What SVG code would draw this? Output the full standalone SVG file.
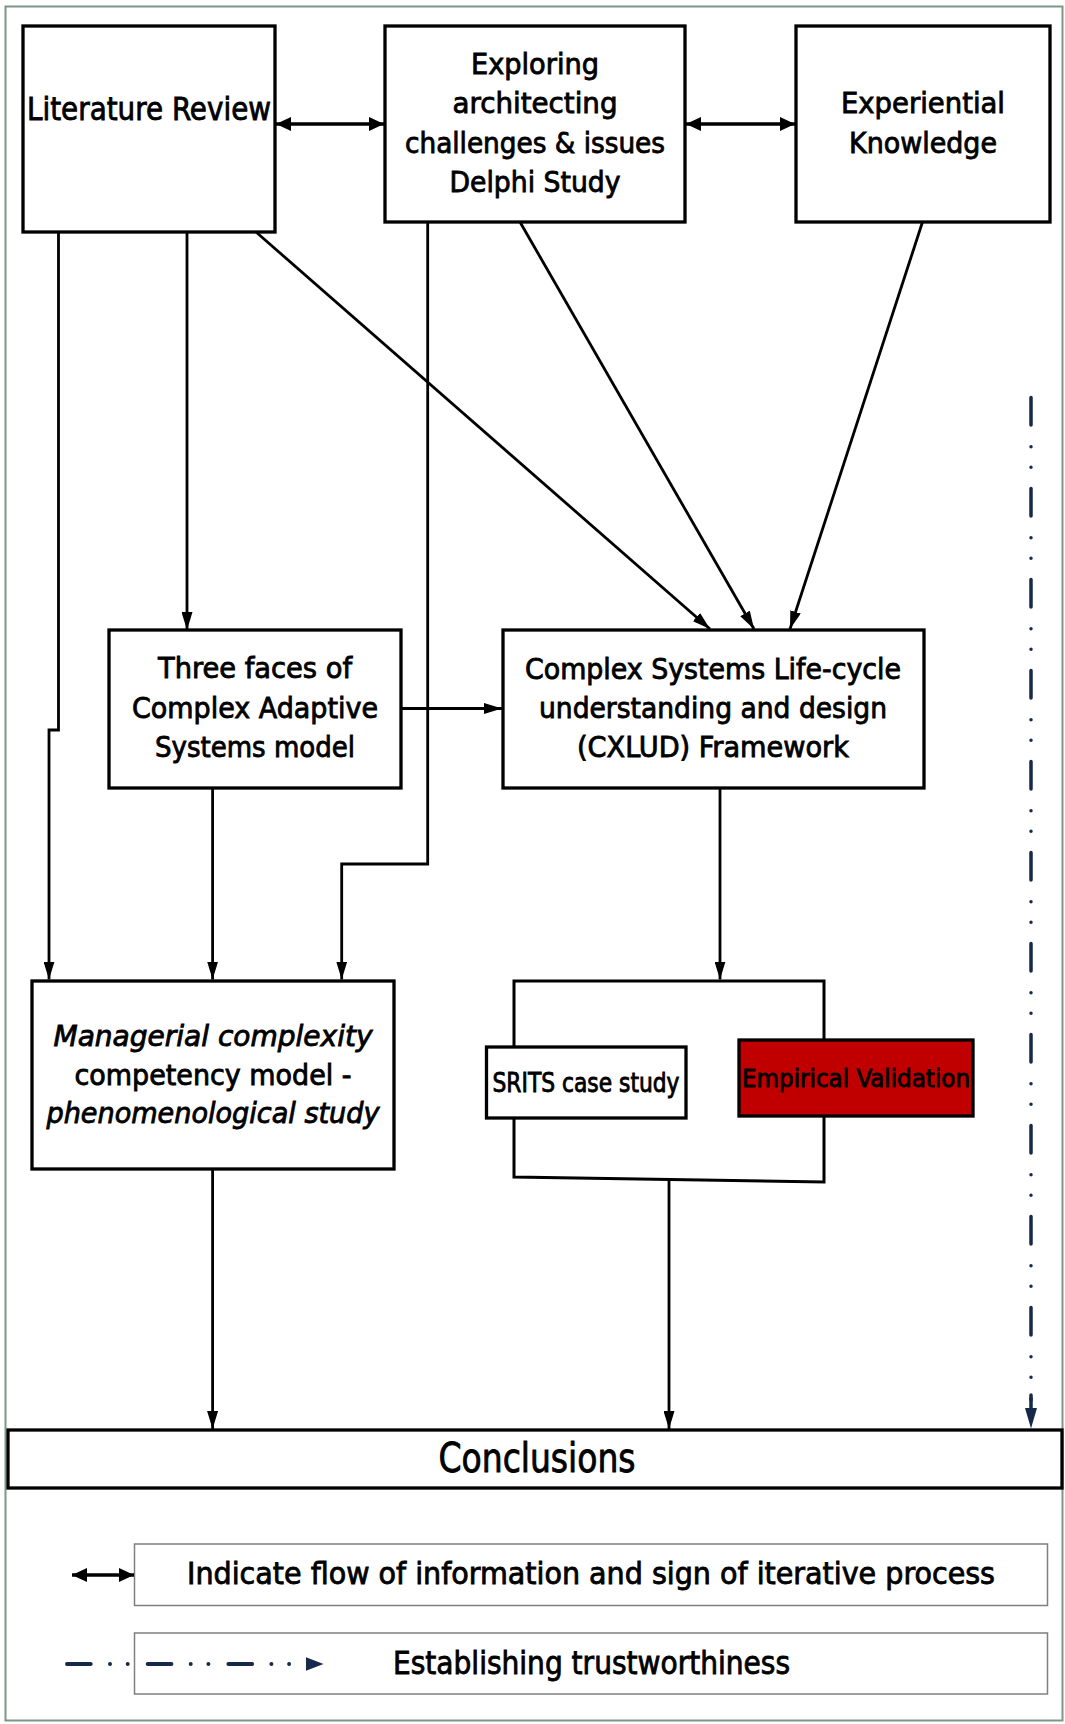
<svg xmlns="http://www.w3.org/2000/svg" width="1065" height="1724" viewBox="0 0 1065 1724">
  <style>
    .box { fill: #ffffff; stroke: #000000; stroke-width: 3.3; }
    .red { fill: #c00000; stroke: #000000; stroke-width: 3.3; }
    .leg { fill: #ffffff; stroke: #7f7f7f; stroke-width: 1.5; }
    .t { font-family: "DejaVu Sans Condensed", "DejaVu Sans", sans-serif; fill: #000000; stroke: #000000; stroke-width: 0.8; text-anchor: middle; }
    .it { font-style: italic; }
    .c { fill: none; stroke: #000000; stroke-width: 2.8; }
    .c2 { fill: none; stroke: #000000; stroke-width: 3.5; }
    .nv { fill: none; stroke: #17294a; stroke-linecap: round; }
  </style>
  <defs>
    <marker id="ah" markerUnits="userSpaceOnUse" markerWidth="18" markerHeight="11" refX="18" refY="5.5" orient="auto">
      <path d="M0,0 L18,5.5 L0,11 z" fill="#000000"/>
    </marker>
    <marker id="ah2" markerUnits="userSpaceOnUse" markerWidth="15" markerHeight="14" refX="15" refY="7" orient="auto-start-reverse">
      <path d="M0,0 L15,7 L0,14 z" fill="#000000"/>
    </marker>
  </defs>

  <!-- outer frame -->
  <rect x="5.5" y="6.5" width="1057" height="1714" fill="#ffffff" stroke="#7d9787" stroke-width="2"/>

  <!-- connectors -->
  <g id="connectors">
    <!-- two-way links between the top sources -->
    <line class="c2" x1="276" y1="124" x2="384" y2="124" marker-start="url(#ah2)" marker-end="url(#ah2)"/>
    <line class="c2" x1="686" y1="124" x2="795" y2="124" marker-start="url(#ah2)" marker-end="url(#ah2)"/>
    <!-- Literature Review outputs -->
    <polyline class="c" points="58.5,232 58.5,730 49,730 49,979.5" marker-end="url(#ah)"/>
    <line class="c" x1="187" y1="232" x2="187" y2="630" marker-end="url(#ah)"/>
    <line class="c" x1="256" y1="232" x2="710" y2="629" marker-end="url(#ah)"/>
    <!-- Delphi study outputs -->
    <polyline class="c" points="427.7,222 427.7,864 341.7,864 341.7,979.5" marker-end="url(#ah)"/>
    <line class="c" x1="520" y1="222" x2="754" y2="629" marker-end="url(#ah)"/>
    <!-- Experiential knowledge output -->
    <line class="c" x1="922.5" y1="222" x2="790" y2="629" marker-end="url(#ah)"/>
    <!-- CAS model outputs -->
    <line class="c" x1="401" y1="708.5" x2="502" y2="708.5" marker-end="url(#ah)"/>
    <line class="c" x1="212.6" y1="788" x2="212.6" y2="979.5" marker-end="url(#ah)"/>
    <!-- framework to case study -->
    <line class="c" x1="720" y1="788" x2="720" y2="979.5" marker-end="url(#ah)"/>
    <!-- into conclusions -->
    <line class="c" x1="212.6" y1="1169" x2="212.6" y2="1429" marker-end="url(#ah)"/>
    <line class="c" x1="669" y1="1180" x2="669" y2="1429" marker-end="url(#ah)"/>
    <!-- trustworthiness track -->
    <line class="nv" x1="1031" y1="397.5" x2="1031" y2="1400" stroke-width="3.5" stroke-dasharray="27.5 21.7 0 20.6 0 21.2"/>
    <path d="M1025,1408 L1037,1408 L1031,1428.5 z" fill="#17294a"/>
    <line class="nv" x1="1031" y1="1395" x2="1031" y2="1409" stroke-width="3.5"/>
  </g>

  <!-- nodes -->
  <g id="literature-review">
    <rect class="box" x="23" y="26" width="252" height="206"/>
    <text class="t" x="149" y="120" font-size="32" textLength="244" lengthAdjust="spacingAndGlyphs">Literature Review</text>
  </g>

  <g id="delphi-study">
    <rect class="box" x="385" y="26" width="300" height="196"/>
    <text class="t" x="535" y="73.5" font-size="29" textLength="128" lengthAdjust="spacingAndGlyphs">Exploring</text>
    <text class="t" x="535" y="113.3" font-size="29" textLength="165" lengthAdjust="spacingAndGlyphs">architecting</text>
    <text class="t" x="535" y="153" font-size="29" textLength="260" lengthAdjust="spacingAndGlyphs">challenges &amp; issues</text>
    <text class="t" x="535" y="191.7" font-size="29" textLength="171" lengthAdjust="spacingAndGlyphs">Delphi Study</text>
  </g>

  <g id="experiential-knowledge">
    <rect class="box" x="796" y="26" width="254" height="196"/>
    <text class="t" x="923" y="113.3" font-size="29" textLength="164" lengthAdjust="spacingAndGlyphs">Experiential</text>
    <text class="t" x="923" y="152.5" font-size="29" textLength="148" lengthAdjust="spacingAndGlyphs">Knowledge</text>
  </g>

  <g id="cas-model">
    <rect class="box" x="109" y="630" width="292" height="158"/>
    <text class="t" x="255" y="678.3" font-size="29" textLength="194" lengthAdjust="spacingAndGlyphs">Three faces of</text>
    <text class="t" x="255" y="718" font-size="29" textLength="246" lengthAdjust="spacingAndGlyphs">Complex Adaptive</text>
    <text class="t" x="255" y="757" font-size="29" textLength="200" lengthAdjust="spacingAndGlyphs">Systems model</text>
  </g>

  <g id="cxlud-framework">
    <rect class="box" x="503" y="630" width="421" height="158"/>
    <text class="t" x="713" y="679" font-size="29" textLength="376" lengthAdjust="spacingAndGlyphs">Complex Systems Life-cycle</text>
    <text class="t" x="713" y="718.3" font-size="29" textLength="348" lengthAdjust="spacingAndGlyphs">understanding and design</text>
    <text class="t" x="713" y="757.3" font-size="29" textLength="272" lengthAdjust="spacingAndGlyphs">(CXLUD) Framework</text>
  </g>

  <g id="managerial-complexity">
    <rect class="box" x="32" y="981" width="362" height="188"/>
    <text class="t it" x="213" y="1046" font-size="29" textLength="319" lengthAdjust="spacingAndGlyphs">Managerial complexity</text>
    <text class="t" x="213" y="1084.5" font-size="29" textLength="277" lengthAdjust="spacingAndGlyphs">competency model -</text>
    <text class="t it" x="213" y="1123" font-size="29" textLength="333" lengthAdjust="spacingAndGlyphs">phenomenological study</text>
  </g>

  <g id="case-study">
    <path d="M514,1047 L514,981 L824,981 L824,1040 M824,1116 L824,1182 L514,1177 L514,1118" fill="none" stroke="#000000" stroke-width="3"/>
    <g id="srits-case-study">
      <rect class="box" x="486.5" y="1047" width="199.5" height="71"/>
      <text class="t" x="586" y="1091.5" font-size="26" textLength="187" lengthAdjust="spacingAndGlyphs">SRITS case study</text>
    </g>
    <g id="empirical-validation">
      <rect class="red" x="739" y="1040" width="234" height="76"/>
      <text class="t" x="856" y="1087" font-size="25" textLength="228" lengthAdjust="spacingAndGlyphs">Empirical Validation</text>
    </g>
  </g>

  <g id="conclusions">
    <rect class="box" x="8" y="1430" width="1054" height="58" stroke-width="3.6"/>
    <text class="t" x="537" y="1472" font-size="40" textLength="197" lengthAdjust="spacingAndGlyphs">Conclusions</text>
  </g>

  <!-- key -->
  <g id="legend-flow">
    <rect class="leg" x="134.5" y="1544" width="913" height="61.5"/>
    <line class="c2" x1="72" y1="1575" x2="134" y2="1575" marker-start="url(#ah2)" marker-end="url(#ah2)"/>
    <text class="t" x="591" y="1584" font-size="31" textLength="808" lengthAdjust="spacingAndGlyphs">Indicate flow of information and sign of iterative process</text>
  </g>

  <g id="legend-trust">
    <rect class="leg" x="134.5" y="1633" width="913" height="61"/>
    <line class="nv" x1="67" y1="1664" x2="292" y2="1664" stroke-width="4" stroke-dasharray="23.7 19.3 0 17.7 0 20"/>
    <path d="M306,1657.3 L323.5,1664 L306,1670.7 z" fill="#17294a"/>
    <text class="t" x="591.5" y="1674" font-size="32" textLength="397" lengthAdjust="spacingAndGlyphs">Establishing trustworthiness</text>
  </g>
</svg>
